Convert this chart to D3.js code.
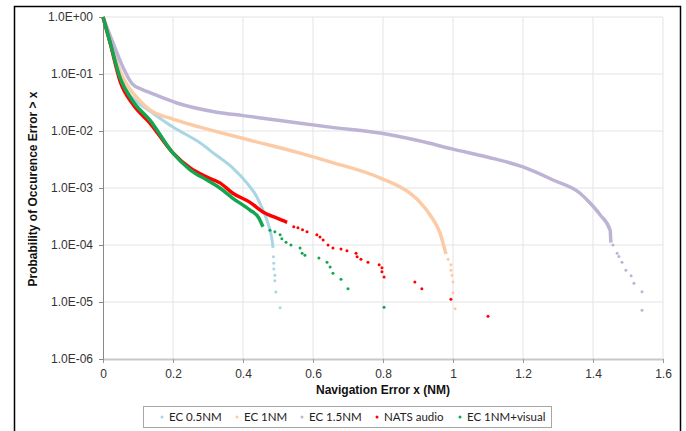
<!DOCTYPE html>
<html><head><meta charset="utf-8">
<script src="https://cdn.jsdelivr.net/npm/d3@7"></script>
<style>body{margin:0;background:#fff;}svg{display:block;}</style>
</head><body><svg id="c" width="686" height="431"></svg>
<script>
const seriesNames = ["EC 0.5NM","EC 1NM","EC 1.5NM","NATS audio","EC 1NM+visual"];
const xTicks = [0,0.2,0.4,0.6,0.8,1.0,1.2,1.4,1.6];
const xTickLabels = ["0","0.2","0.4","0.6","0.8","1","1.2","1.4","1.6"];
const yTicks = [1,1e-1,1e-2,1e-3,1e-4,1e-5,1e-6];
const yTickLabels = ["1.0E+00","1.0E-01","1.0E-02","1.0E-03","1.0E-04","1.0E-05","1.0E-06"];

// dense (line-like) parts: [x, probability]
const ec05Line = [[0,1],[0.02,0.38],[0.045,0.13],[0.068,0.052],[0.1,0.0316],[0.134,0.0224],[0.2,0.0117],[0.277,0.0062],[0.32,0.0039],[0.371,0.00224],[0.411,0.00123],[0.44,0.00069],[0.457,0.00041],[0.471,0.000245],[0.483,0.000123],[0.486,0.000089]];
const ec05Tail = [[0.487,6.2e-5],[0.488,4.8e-5],[0.488,3.8e-5],[0.491,2.95e-5],[0.491,2.35e-5],[0.494,1.5e-5],[0.506,7.9e-6]];

const ec1Line = [[0,1],[0.02,0.398],[0.044,0.132],[0.068,0.066],[0.1,0.037],[0.134,0.0234],[0.2,0.0162],[0.277,0.0117],[0.42,0.0069],[0.563,0.0041],[0.649,0.00288],[0.791,0.00151],[0.877,0.00081],[0.906,0.00056],[0.934,0.00034],[0.963,0.000162],[0.98,0.000069]];
const ec1Tail = [[0.986,5.6e-5],[0.994,4.5e-5],[0.994,3.6e-5],[0.997,2.95e-5],[1.0,2.24e-5],[1.0,1.45e-5],[1.006,7.6e-6]];

const ec15Line = [[0,1],[0.029,0.347],[0.057,0.132],[0.083,0.068],[0.11,0.054],[0.134,0.047],[0.211,0.031],[0.325,0.0214],[0.4,0.0186],[0.5,0.0155],[0.649,0.0117],[0.791,0.0092],[0.9,0.0068],[1.0,0.0048],[1.1,0.00347],[1.2,0.00234],[1.286,0.00138],[1.363,0.00081],[1.391,0.00055],[1.42,0.00034],[1.449,0.000182],[1.451,0.00011]];
const ec15Tail = [[1.457,1.0e-4],[1.469,7.2e-5],[1.474,6.3e-5],[1.483,5.0e-5],[1.494,3.6e-5],[1.509,2.9e-5],[1.517,2.14e-5],[1.54,1.51e-5],[1.54,7.2e-6]];

const natsLine = [[0,1],[0.02,0.355],[0.049,0.074],[0.086,0.029],[0.134,0.0138],[0.2,0.0041],[0.249,0.00224],[0.297,0.00155],[0.334,0.00123],[0.371,0.00081],[0.42,0.00056],[0.457,0.00038],[0.497,0.000295],[0.526,0.00025]];
const natsTail = [[0.545,2.1e-4],[0.557,2.0e-4],[0.57,1.85e-4],[0.583,1.7e-4],[0.611,1.51e-4],[0.62,1.38e-4],[0.629,1.23e-4],[0.643,1.0e-4],[0.657,8.9e-5],[0.68,8.5e-5],[0.697,7.9e-5],[0.723,7.2e-5],[0.726,6.2e-5],[0.737,5.6e-5],[0.757,5.0e-5],[0.789,4.5e-5],[0.797,4.0e-5],[0.797,3.4e-5],[0.803,2.75e-5],[0.891,2.24e-5],[0.911,1.7e-5],[0.994,1.12e-5],[1.1,5.6e-6]];

const visLine = [[0,1],[0.02,0.363],[0.049,0.085],[0.086,0.033],[0.134,0.0155],[0.2,0.0041],[0.249,0.00209],[0.297,0.00138],[0.334,0.0010],[0.371,0.00066],[0.42,0.00041],[0.445,0.0003],[0.457,0.000209]];
const visTail = [[0.477,1.82e-4],[0.491,1.7e-4],[0.506,1.51e-4],[0.511,1.29e-4],[0.523,1.12e-4],[0.537,1.0e-4],[0.563,8.9e-5],[0.569,7.2e-5],[0.577,6.6e-5],[0.617,5.9e-5],[0.64,5.0e-5],[0.649,4.1e-5],[0.657,3.2e-5],[0.68,2.5e-5],[0.7,1.7e-5],[0.803,8.1e-6]];

const colors = ["#a9d6e3","#fccba6","#bdb3d5","#ff0000","#13a650"];
const lines = [ec05Line, ec1Line, ec15Line, natsLine, visLine];
const tails = [ec05Tail, ec1Tail, ec15Tail, natsTail, visTail];
const widths = [3, 3.5, 3.5, 3.5, 3.5];

const svg = d3.select("#c");
const font = "'Liberation Sans', Arial, sans-serif";
const m = {l:103, r:663, t:17, b:359};
const x = d3.scaleLinear().domain([0,1.6]).range([m.l, m.r]);
const y = d3.scaleLog().domain([1e-6,1]).range([m.b, m.t]);

svg.append("rect").attr("x",0).attr("y",0).attr("width",686).attr("height",431).attr("fill","#fff");
svg.append("rect").attr("x",14.5).attr("y",6.5).attr("width",666).attr("height",440)
  .attr("fill","none").attr("stroke","#000").attr("stroke-width",1.5);

// grid
const g = svg.append("g");
g.selectAll(".vg").data(xTicks.slice(1)).join("line")
  .attr("x1",d=>x(d)).attr("x2",d=>x(d)).attr("y1",m.t).attr("y2",m.b)
  .attr("stroke","#e3e3e3").attr("stroke-width",1);
g.selectAll(".hg").data(yTicks.slice(0,-1)).join("line")
  .attr("x1",m.l).attr("x2",m.r).attr("y1",d=>y(d)).attr("y2",d=>y(d))
  .attr("stroke","#e3e3e3").attr("stroke-width",1);

// axes
const xAxis = d3.axisBottom(x).tickValues(xTicks).tickFormat((d,i)=>xTickLabels[i]).tickSize(4).tickSizeOuter(0).tickPadding(6);
const xg = svg.append("g").attr("transform",`translate(0,${m.b})`).call(xAxis);
xg.select(".domain").attr("stroke","#c8c8c8").attr("stroke-width",2);
xg.selectAll(".tick line").attr("stroke","#999");
xg.selectAll("text").attr("font-family",font).attr("font-size",12).attr("fill","#333");

const yAxis = d3.axisLeft(y).tickValues(yTicks).tickFormat((d,i)=>yTickLabels[i]).tickSize(4).tickSizeOuter(0).tickPadding(6);
const yg = svg.append("g").attr("transform",`translate(${m.l},0)`).call(yAxis);
yg.select(".domain").attr("stroke","#888").attr("stroke-width",1);
yg.selectAll(".tick line").attr("stroke","#888");
yg.selectAll("text").attr("font-family",font).attr("font-size",12).attr("fill","#333");

// series
const lineGen = d3.line().x(d=>x(d[0])).y(d=>y(d[1])).curve(d3.curveMonotoneX);
lines.forEach((data,i)=>{
  svg.append("path").attr("d",lineGen(data)).attr("fill","none")
    .attr("stroke",colors[i]).attr("stroke-width",widths[i]).attr("stroke-linejoin","round");
  svg.append("g").selectAll("circle").data(tails[i]).join("circle")
    .attr("cx",d=>x(d[0])).attr("cy",d=>y(d[1])).attr("r",1.5).attr("fill",colors[i]);
});

// titles
svg.append("text").attr("x",383).attr("y",394).attr("text-anchor","middle")
  .attr("font-family",font).attr("font-size",12).attr("font-weight","bold").attr("fill","#111")
  .text("Navigation Error x (NM)");
svg.append("text").attr("transform","translate(37,189) rotate(-90)").attr("text-anchor","middle")
  .attr("font-family",font).attr("font-size",12).attr("font-weight","bold").attr("fill","#111")
  .text("Probability of Occurence Error > x");

// legend
const lg = svg.append("g");
lg.append("rect").attr("x",143.5).attr("y",406.5).attr("width",408).attr("height",21)
  .attr("fill","#fff").attr("stroke","#a6a6a6").attr("stroke-width",1);
const legX = [162,237,302,377,460];
seriesNames.forEach((n,i)=>{
  lg.append("circle").attr("cx",legX[i]).attr("cy",417).attr("r",1.5).attr("fill",colors[i]);
  lg.append("text").attr("x",legX[i]+7).attr("y",421).attr("font-family","Lato, 'Open Sans', sans-serif")
    .attr("font-size",11.5).attr("fill","#222").text(n);
});
</script></body></html>
